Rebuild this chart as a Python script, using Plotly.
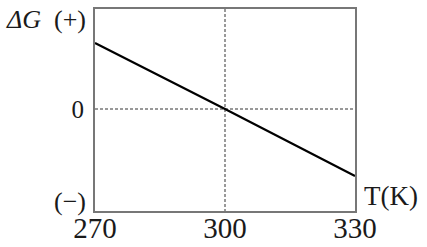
import plotly.graph_objects as go

# Data
temps = [270, 300, 330]
delta_g = [0.66, 0.0, -0.67]
x_ticks = [270, 300, 330]
x_tick_labels = ["270", "300", "330"]
y_ticks = [0]
y_tick_labels = ["0"]

FONT = "Liberation Serif"
TXT = "#1a1a1a"

fig = go.Figure()
fig.add_trace(go.Scatter(x=temps, y=delta_g, mode="lines",
                         line=dict(color="black", width=2.2),
                         hoverinfo="skip", showlegend=False))

fig.update_layout(
    width=427, height=247,
    margin=dict(l=95, r=72, t=9, b=36, autoexpand=False),
    paper_bgcolor="white", plot_bgcolor="white",
    font=dict(family=FONT, color=TXT, size=26),
    showlegend=False,
    xaxis=dict(range=[270, 330], tickvals=x_ticks, ticktext=x_tick_labels,
               showgrid=True, gridcolor="#999", griddash="3px,2px", gridwidth=1.5,
               showline=True, mirror=True, linecolor="#777", linewidth=2,
               zeroline=False, ticks="", automargin=False, ticklabelstandoff=-10,
               tickfont=dict(size=29, family=FONT, color=TXT)),
    yaxis=dict(range=[-1.02, 1.0], tickvals=y_ticks, ticktext=y_tick_labels,
               showgrid=True, gridcolor="#999", griddash="3px,2px", gridwidth=1.5,
               showline=True, mirror=True, linecolor="#777", linewidth=2,
               zeroline=False, ticks="", automargin=False, ticklabelstandoff=4,
               tickfont=dict(size=25, family=FONT, color=TXT)),
)

fig.add_annotation(text="<i>ΔG</i>\u00a0 (+)", xref="paper", yref="paper",
                   x=-0.027, y=0.946, xanchor="right", yanchor="middle",
                   showarrow=False, font=dict(size=26, family=FONT, color=TXT))
fig.add_annotation(text="(−)", xref="paper", yref="paper",
                   x=-0.027, y=0.045, xanchor="right", yanchor="middle",
                   showarrow=False, font=dict(size=26, family=FONT, color=TXT))
fig.add_annotation(text="T(K)", xref="paper", yref="paper",
                   x=1.027, y=0.074, xanchor="left", yanchor="middle",
                   showarrow=False, font=dict(size=27, family=FONT, color=TXT))

fig.write_html("out.html")
